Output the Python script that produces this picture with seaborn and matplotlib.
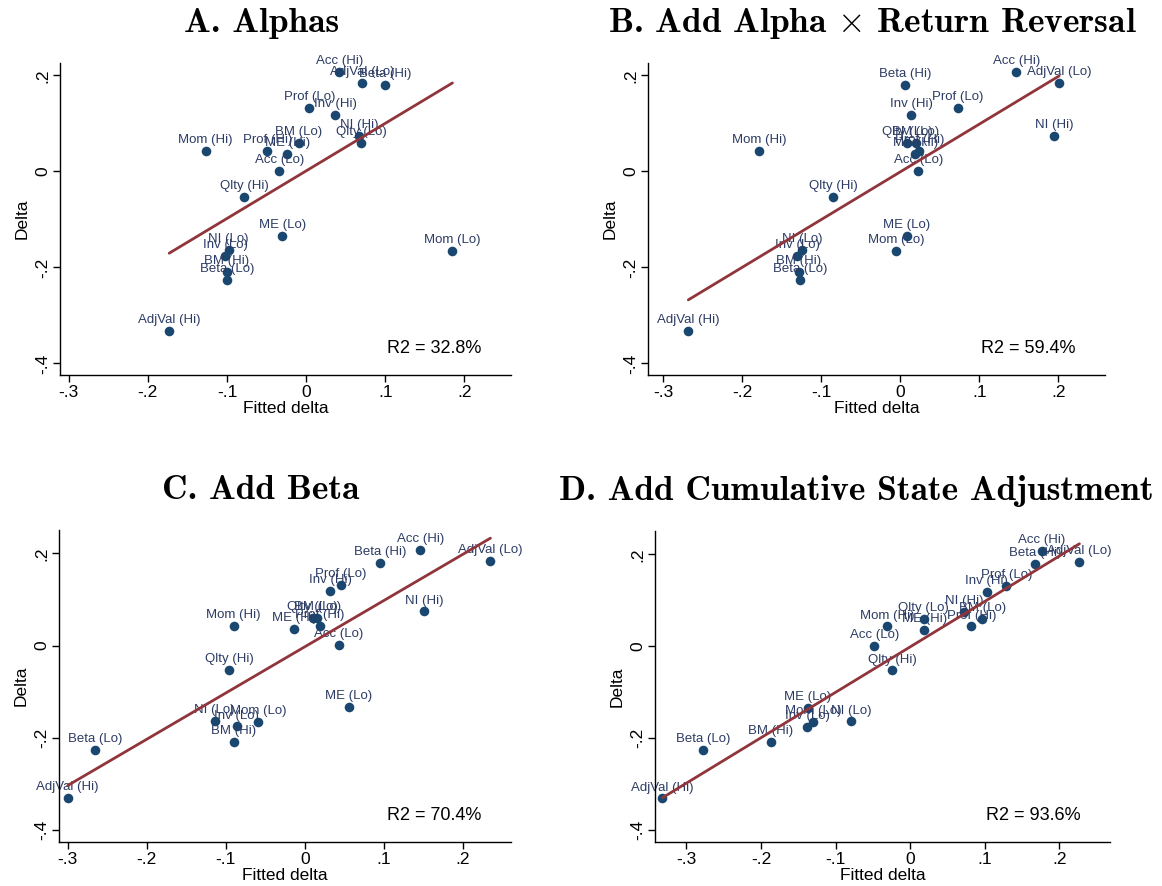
import numpy as np
import pandas as pd
import matplotlib
matplotlib.use("Agg")
import matplotlib.pyplot as plt
import seaborn as sns
from matplotlib.ticker import FuncFormatter

### data ###
labels = [
    "Acc (Hi)", "Acc (Lo)", "AdjVal (Hi)", "AdjVal (Lo)", "Beta (Hi)",
    "Beta (Lo)", "BM (Hi)", "BM (Lo)", "Inv (Hi)", "Inv (Lo)",
    "ME (Hi)", "ME (Lo)", "Mom (Hi)", "Mom (Lo)", "NI (Hi)",
    "NI (Lo)", "Prof (Hi)", "Prof (Lo)", "Qlty (Hi)", "Qlty (Lo)",
]
delta = [
    0.207, 0.001, -0.332, 0.184, 0.180,
    -0.226, -0.209, 0.060, 0.118, -0.176,
    0.036, -0.134, 0.043, -0.166, 0.074,
    -0.164, 0.043, 0.132, -0.053, 0.060,
]
fitted_a = [
    0.042, -0.034, -0.173, 0.071, 0.100,
    -0.100, -0.100, -0.009, 0.037, -0.102,
    -0.024, -0.030, -0.127, 0.185, 0.067,
    -0.098, -0.049, 0.004, -0.078, 0.070,
]
fitted_b = [
    0.147, 0.023, -0.268, 0.201, 0.006,
    -0.127, -0.128, 0.020, 0.014, -0.130,
    0.019, 0.008, -0.178, -0.005, 0.195,
    -0.124, 0.024, 0.073, -0.085, 0.009,
]
fitted_c = [
    0.146, 0.043, -0.300, 0.235, 0.095,
    -0.265, -0.090, 0.016, 0.032, -0.086,
    -0.013, 0.056, -0.090, -0.059, 0.151,
    -0.114, 0.019, 0.046, -0.096, 0.010,
]
fitted_d = [
    0.177, -0.048, -0.332, 0.227, 0.168,
    -0.277, -0.187, 0.097, 0.103, -0.138,
    0.019, -0.137, -0.031, -0.130, 0.072,
    -0.079, 0.082, 0.129, -0.024, 0.018,
]
r2_values = [32.8, 59.4, 70.4, 93.6]
titles = [
    "A. Alphas",
    r"B. Add Alpha $\times$ Return Reversal",
    "C. Add Beta",
    "D. Add Cumulative State Adjustment",
]
x_ticks = [-0.3, -0.2, -0.1, 0, 0.1, 0.2]
y_ticks = [-0.4, -0.2, 0, 0.2]

### style ###
sns.set_style("ticks")
plt.rcParams['font.family'] = ['Liberation Sans', 'DejaVu Sans']
plt.rcParams['mathtext.fontset'] = 'cm'

navy = '#1a476f'
label_col = '#2d3c64'
maroon = '#90353b'

W, H = 1162, 886
# axes boxes in pixels: left, right, top, bottom
boxes = [
    (60, 511, 63, 375),
    (648, 1105, 63, 375),
    (59, 511, 530, 842),
    (655, 1110, 531, 842),
]
xlims = [(-0.311, 0.259), (-0.319, 0.259), (-0.311, 0.261), (-0.342, 0.268)]
ylims = [(-0.424, 0.226), (-0.424, 0.226), (-0.427, 0.251), (-0.427, 0.251)]
title_x = [0.446, 0.49, 0.446, 0.442]


def stata_fmt(v, pos):
    if abs(v) < 1e-9:
        return "0"
    s = f"{v:g}"
    return s.replace("0.", ".")


fig = plt.figure(figsize=(W / 100, H / 100), dpi=100)
fig.patch.set_facecolor('white')

for i, fitted in enumerate([fitted_a, fitted_b, fitted_c, fitted_d]):
    l, r, t, b = boxes[i]
    ax = fig.add_axes([l / W, 1 - b / H, (r - l) / W, (b - t) / H])
    df = pd.DataFrame({'fitted': fitted, 'delta': delta, 'label': labels})

    sns.scatterplot(
        data=df, x='fitted', y='delta', ax=ax,
        color=navy, s=48, linewidth=0, zorder=2, legend=False,
    )
    for _, row in df.iterrows():
        ax.annotate(
            row['label'], (row['fitted'], row['delta']),
            xytext=(0, 3.5), textcoords='offset points',
            ha='center', va='bottom', fontsize=9.5, color=label_col, zorder=2,
        )
    sns.regplot(
        data=df, x='fitted', y='delta', ax=ax, scatter=False, ci=None,
        color=maroon, line_kws=dict(lw=2.0, zorder=3),
    )

    ax.set_xlim(xlims[i])
    ax.set_ylim(ylims[i])
    ax.set_xticks(x_ticks)
    ax.set_yticks(y_ticks)
    ax.xaxis.set_major_formatter(FuncFormatter(stata_fmt))
    ax.yaxis.set_major_formatter(FuncFormatter(stata_fmt))
    ax.tick_params(axis='both', direction='out', length=5, width=1,
                   labelsize=12.5, colors='black', pad=2)
    ax.tick_params(axis='y', labelrotation=90)
    for lab in ax.get_yticklabels():
        lab.set_verticalalignment('center')
    sns.despine(ax=ax)
    for side in ['left', 'bottom']:
        ax.spines[side].set_linewidth(1)
        ax.spines[side].set_color('black')

    ax.set_xlabel("Fitted delta", fontsize=12.5, labelpad=1, color='black')
    ax.set_ylabel("Delta", fontsize=12.5, labelpad=4, color='black')
    ax.set_title(titles[i], fontsize=25.5, fontfamily='cmb10',
                 x=title_x[i], pad=22, color='black')
    ax.text(0.935, 0.085, f"R2 = {r2_values[i]}%", transform=ax.transAxes,
            ha='right', va='center', fontsize=13, color='black')

plt.savefig("out.png", dpi=100, facecolor='white')
